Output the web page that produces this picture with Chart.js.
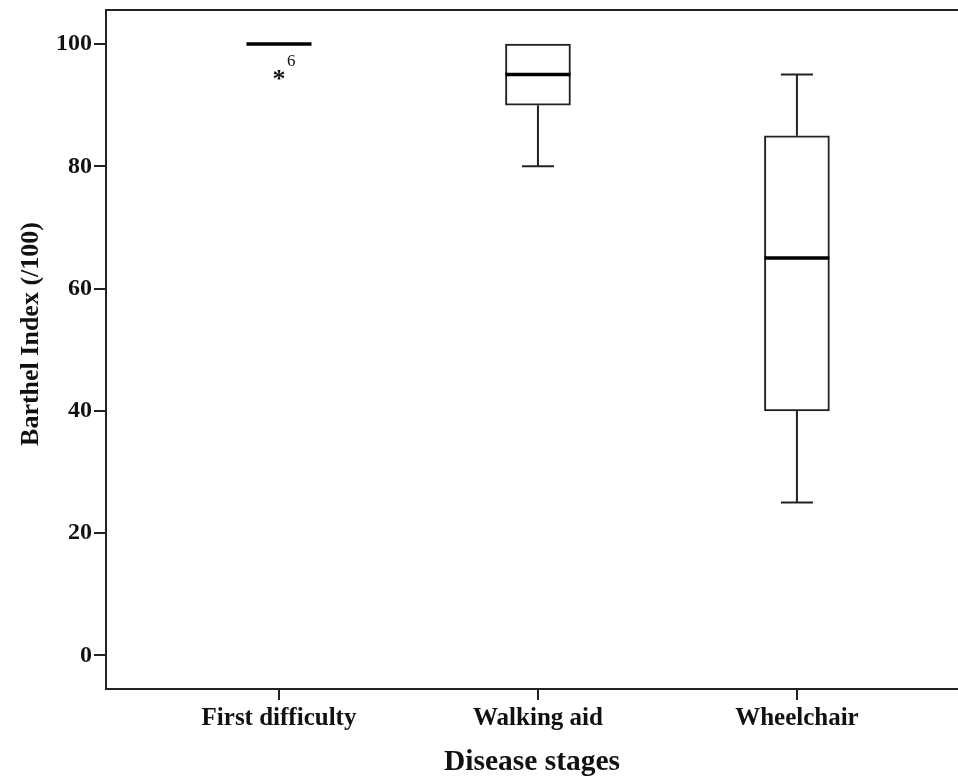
<!DOCTYPE html>
<html>
<head>
<meta charset="utf-8">
<script src="https://cdn.jsdelivr.net/npm/chart.js@4/dist/chart.umd.min.js"></script>
<style>
  html, body { margin: 0; padding: 0; background: #fff; overflow: hidden; }
  #wrap { width: 958px; height: 776px; }
</style>
</head>
<body>
<div id="wrap"><canvas id="boxChart" width="958" height="776"></canvas></div>
<script>
// Box plot summary per disease stage
const categories = ['First difficulty', 'Walking aid', 'Wheelchair'];
const whiskerLow = [100, 80, 25];
const quartile1 = [100, 90, 40];
const medians = [100, 95, 65];
const quartile3 = [100, 100, 85];
const whiskerHigh = [100, 100, 95];

// Extreme outliers (SPSS "*" marks) with their case numbers
const outlierCategory = [1];
const outlierValues = [95];
const outlierCases = ['6'];

const yTicks = [0, 20, 40, 60, 80, 100];
const yTitle = 'Barthel Index (/100)';

const serif = "'Liberation Serif', 'Times New Roman', serif";
const lineColor = '#222';

// Whiskers, caps, medians, outlier marks, top frame line and y title
const boxPlotExtras = {
    id: 'boxPlotExtras',
    afterDatasetsDraw(chart) {
        const { ctx, chartArea, scales } = chart;
        const xs = scales.x, ys = scales.y;
        const halfBox = 32.5, halfCap = 16;

        ctx.save();
        ctx.strokeStyle = lineColor;
        ctx.lineCap = 'butt';

        categories.forEach((c, i) => {
            const cx = xs.getPixelForValue(i + 1);
            const yLo = ys.getPixelForValue(whiskerLow[i]);
            const yQ1 = ys.getPixelForValue(quartile1[i]);
            const yQ3 = ys.getPixelForValue(quartile3[i]);
            const yHi = ys.getPixelForValue(whiskerHigh[i]);

            ctx.lineWidth = 2;
            if (whiskerHigh[i] > quartile3[i]) {
                ctx.beginPath();
                ctx.moveTo(cx, yQ3); ctx.lineTo(cx, yHi);
                ctx.moveTo(cx - halfCap, yHi); ctx.lineTo(cx + halfCap, yHi);
                ctx.stroke();
            }
            if (whiskerLow[i] < quartile1[i]) {
                ctx.beginPath();
                ctx.moveTo(cx, yQ1); ctx.lineTo(cx, yLo);
                ctx.moveTo(cx - halfCap, yLo); ctx.lineTo(cx + halfCap, yLo);
                ctx.stroke();
            }

            // median
            const yMed = ys.getPixelForValue(medians[i]);
            ctx.strokeStyle = '#000';
            ctx.lineWidth = 3.5;
            ctx.beginPath();
            ctx.moveTo(cx - halfBox, yMed); ctx.lineTo(cx + halfBox, yMed);
            ctx.stroke();
            ctx.strokeStyle = lineColor;
        });

        // outliers from the scatter dataset
        const meta = chart.getDatasetMeta(1);
        ctx.fillStyle = '#111';
        meta.data.forEach((pt, j) => {
            ctx.font = 'bold 26px ' + serif;
            ctx.textAlign = 'center';
            ctx.textBaseline = 'middle';
            ctx.fillText('*', pt.x, pt.y + 6);
            ctx.font = '17px ' + serif;
            ctx.textAlign = 'left';
            ctx.fillText(outlierCases[j], pt.x + 8, pt.y - 13);
        });

        // top frame line
        ctx.strokeStyle = lineColor;
        ctx.lineWidth = 2;
        ctx.beginPath();
        ctx.moveTo(chartArea.left, chartArea.top);
        ctx.lineTo(chartArea.right, chartArea.top);
        ctx.stroke();

        // y axis title (SPSS places it a little above the plot centre)
        ctx.translate(31, 334);
        ctx.rotate(-Math.PI / 2);
        ctx.font = 'bold 26px ' + serif;
        ctx.textAlign = 'center';
        ctx.textBaseline = 'middle';
        ctx.fillText(yTitle, 0, 0);
        ctx.restore();
    }
};

const ctx = document.getElementById('boxChart').getContext('2d');

new Chart(ctx, {
    type: 'bar',
    data: {
        datasets: [{
            label: 'IQR',
            data: categories.map((c, i) =>
                quartile3[i] > quartile1[i] ? { x: i + 1, y: [quartile1[i], quartile3[i]] } : { x: i + 1, y: null }),
            backgroundColor: '#fff',
            borderColor: lineColor,
            borderWidth: 2,
            borderSkipped: false,
            barThickness: 65
        }, {
            type: 'scatter',
            label: 'Outliers',
            data: outlierCategory.map((c, j) => ({ x: c, y: outlierValues[j] })),
            pointRadius: 0,
            pointHoverRadius: 0
        }]
    },
    options: {
        responsive: false,
        animation: false,
        events: [],
        layout: { padding: { top: 10, right: 0, left: 0, bottom: 0 } },
        plugins: {
            legend: { display: false },
            tooltip: { enabled: false }
        },
        scales: {
            x: {
                type: 'linear',
                offset: false,
                min: 0.332,
                max: 3.622,
                afterBuildTicks: (axis) => { axis.ticks = categories.map((c, i) => ({ value: i + 1 })); },
                afterFit: (axis) => { axis.height = 87; axis.paddingLeft = 0; axis.paddingRight = 0; },
                ticks: {
                    callback: (v) => categories[v - 1],
                    color: '#111',
                    font: { family: serif, size: 25, weight: 'bold' },
                    padding: 4,
                    maxRotation: 0,
                    autoSkip: false
                },
                grid: { offset: false, drawOnChartArea: false, drawTicks: true, tickLength: 11, color: lineColor, lineWidth: 2 },
                border: { display: true, color: lineColor, width: 2 },
                title: {
                    display: true,
                    text: 'Disease stages',
                    color: '#111',
                    font: { family: serif, size: 29.5, weight: 'bold' },
                    padding: { top: 10, bottom: -4 }
                }
            },
            y: {
                min: -5.48,
                max: 105.56,
                afterBuildTicks: (axis) => { axis.ticks = yTicks.map(v => ({ value: v })); },
                afterFit: (axis) => { axis.width = 106; axis.paddingTop = 0; axis.paddingBottom = 0; },
                ticks: {
                    color: '#111',
                    font: { family: serif, size: 24, weight: 'bold' },
                    padding: 2
                },
                grid: { drawOnChartArea: false, drawTicks: true, tickLength: 12, color: lineColor, lineWidth: 2 },
                border: { display: true, color: lineColor, width: 2 },
                title: { display: false }
            }
        }
    },
    plugins: [boxPlotExtras]
});
</script>
</body>
</html>
